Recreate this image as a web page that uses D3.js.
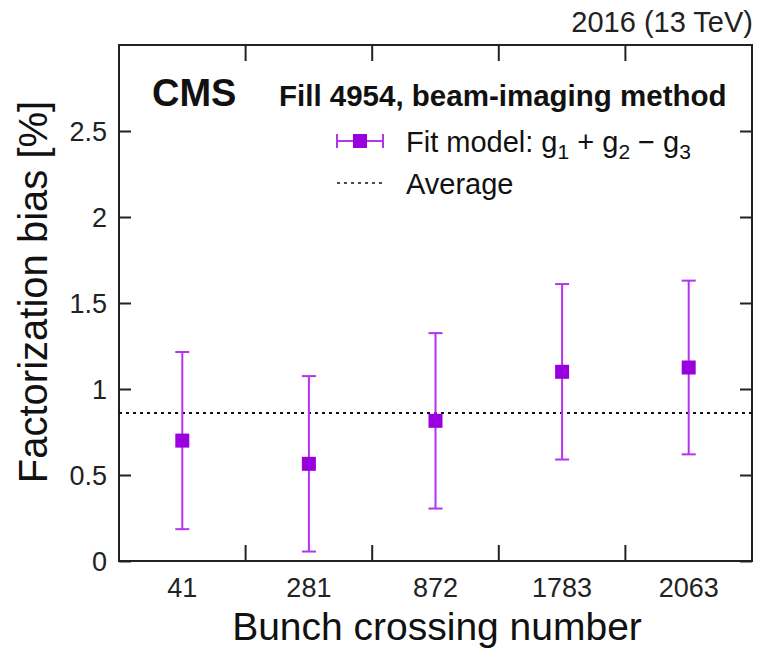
<!DOCTYPE html>
<html>
<head>
<meta charset="utf-8">
<script src="https://cdn.jsdelivr.net/npm/d3@7"></script>
<style>
  html, body { margin: 0; padding: 0; background: #fff; }
  svg { display: block; font-family: "Liberation Sans", Arial, sans-serif; }
</style>
</head>
<body>
<svg id="chart" width="758" height="649"></svg>
<script>
// Per-bunch factorization bias, g1 + g2 - g3 fit model
const bunches = ["41", "281", "872", "1783", "2063"];
const bias = [0.70, 0.565, 0.815, 1.10, 1.125];
const biasErr = [0.515, 0.51, 0.51, 0.51, 0.505];
const average = 0.86;
const yTicks = [0, 0.5, 1, 1.5, 2, 2.5];

const svg = d3.select("#chart");
const margin = { left: 119, right: 6, top: 45, bottom: 88 };
const W = 758, H = 649;
const x0 = margin.left, x1 = W - margin.right;
const y0 = H - margin.bottom, y1 = margin.top;

const x = d3.scaleBand().domain(bunches).range([x0, x1]).padding(0);
const y = d3.scaleLinear().domain([0, 3.0]).range([y0, y1]);

const markColor = "#9900dd";
const barColor = "#b533ee";
const ink = "#111";

// Y axis left and right
const yLeft = d3.axisLeft(y).tickValues(yTicks).tickSize(-12).tickPadding(10)
  .tickFormat(d => d3.format("")(d));
const gL = svg.append("g").attr("transform", `translate(${x0},0)`).call(yLeft);
gL.selectAll("text").attr("x", -12).attr("dy", "0.35em")
  .style("font-size", "27px").style("font-family", "Liberation Sans, Arial, sans-serif").attr("fill", "#222");
const gR = svg.append("g").attr("transform", `translate(${x1},0)`)
  .call(d3.axisRight(y).tickValues(yTicks).tickSize(-12).tickFormat(""));

// X ticks at band boundaries, top and bottom
const edges = bunches.slice(1).map(b => x(b));
svg.append("g").selectAll("line").data(edges).join("line")
  .attr("x1", d => d).attr("x2", d => d).attr("y1", y0).attr("y2", y0 - 16)
  .attr("stroke", "#222").attr("stroke-width", 2);
svg.append("g").selectAll("line").data(edges).join("line")
  .attr("x1", d => d).attr("x2", d => d).attr("y1", y1).attr("y2", y1 + 16)
  .attr("stroke", "#222").attr("stroke-width", 2);

// X labels
svg.append("g").selectAll("text").data(bunches).join("text")
  .attr("x", d => x(d) + x.bandwidth() / 2).attr("y", y0 + 36)
  .attr("text-anchor", "middle").style("font-size", "27px").attr("fill", "#222")
  .text(d => d);

[gL, gR].forEach(g => {
  g.select(".domain").remove();
  g.selectAll(".tick line").attr("stroke", "#222").attr("stroke-width", 2);
});

// Frame
svg.append("rect").attr("x", x0).attr("y", y1).attr("width", x1 - x0).attr("height", y0 - y1)
  .attr("fill", "none").attr("stroke", "#222").attr("stroke-width", 2);

// Average line
svg.append("line").attr("x1", x0).attr("x2", x1).attr("y1", y(average)).attr("y2", y(average))
  .attr("stroke", ink).attr("stroke-width", 2).attr("stroke-dasharray", "3,4");

// Error bars and markers
const pts = bunches.map((b, i) => ({ b, v: bias[i], e: biasErr[i] }));
const g = svg.append("g");
pts.forEach(p => {
  const cx = x(p.b) + x.bandwidth() / 2;
  g.append("line").attr("x1", cx).attr("x2", cx).attr("y1", y(p.v - p.e)).attr("y2", y(p.v + p.e))
    .attr("stroke", barColor).attr("stroke-width", 2);
  [p.v - p.e, p.v + p.e].forEach(v => {
    g.append("line").attr("x1", cx - 7).attr("x2", cx + 7).attr("y1", y(v)).attr("y2", y(v))
      .attr("stroke", barColor).attr("stroke-width", 2);
  });
  g.append("rect").attr("x", cx - 7).attr("y", y(p.v) - 7).attr("width", 14).attr("height", 14)
    .attr("fill", markColor);
});

// Titles
svg.append("text").attr("x", 437).attr("y", 640).attr("text-anchor", "middle")
  .style("font-size", "39px").attr("fill", ink).text("Bunch crossing number");
svg.append("text").attr("transform", "translate(47,292) rotate(-90)").attr("text-anchor", "middle")
  .style("font-size", "40px").attr("fill", ink).text("Factorization bias [%]");
svg.append("text").attr("x", 753).attr("y", 32).attr("text-anchor", "end")
  .style("font-size", "29px").attr("fill", "#222").text("2016 (13 TeV)");
svg.append("text").attr("x", 152).attr("y", 106)
  .style("font-size", "38px").style("font-weight", "bold").attr("fill", ink).text("CMS");
svg.append("text").attr("x", 279).attr("y", 106)
  .style("font-size", "29.5px").style("font-weight", "bold").attr("fill", ink)
  .text("Fill 4954, beam-imaging method");

// Legend
const lg = svg.append("g");
const lx = 360, ly1 = 141, ly2 = 183;
lg.append("line").attr("x1", lx - 23).attr("x2", lx + 23).attr("y1", ly1).attr("y2", ly1)
  .attr("stroke", barColor).attr("stroke-width", 2);
[lx - 23, lx + 23].forEach(xx => lg.append("line").attr("x1", xx).attr("x2", xx)
  .attr("y1", ly1 - 7).attr("y2", ly1 + 7).attr("stroke", barColor).attr("stroke-width", 2));
lg.append("rect").attr("x", lx - 7).attr("y", ly1 - 7).attr("width", 14).attr("height", 14)
  .attr("fill", markColor);
const t1 = lg.append("text").attr("x", 406).attr("y", 152).style("font-size", "29px").attr("fill", ink)
  .attr("xml:space", "preserve").style("white-space", "pre");
t1.append("tspan").text("Fit model: g");
t1.append("tspan").attr("dy", 7).style("font-size", "21px").text("1");
t1.append("tspan").attr("dy", -7).text(" + g");
t1.append("tspan").attr("dy", 7).style("font-size", "21px").text("2");
t1.append("tspan").attr("dy", -7).text(" \u2212 g");
t1.append("tspan").attr("dy", 7).style("font-size", "21px").text("3");
lg.append("line").attr("x1", lx - 23).attr("x2", lx + 23).attr("y1", ly2).attr("y2", ly2)
  .attr("stroke", ink).attr("stroke-width", 1.5).attr("stroke-dasharray", "3,4");
lg.append("text").attr("x", 406).attr("y", 194).style("font-size", "29px").attr("fill", ink)
  .text("Average");
</script>
</body>
</html>
